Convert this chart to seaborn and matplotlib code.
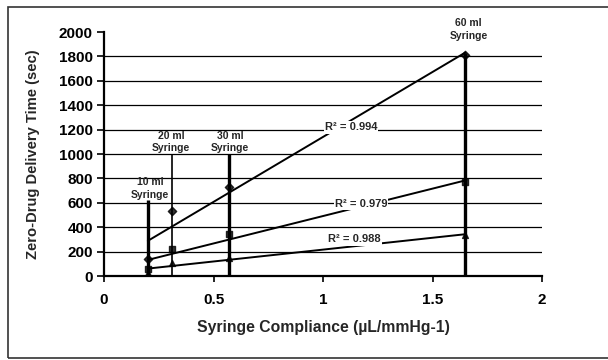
import matplotlib
matplotlib.use("Agg")
import matplotlib.pyplot as plt
import matplotlib.patches as mpatches
import seaborn as sns

# ---- data ----
compliance = [0.2, 0.31, 0.57, 1.65]          # syringe compliance (uL/mmHg-1)
time_top = [140, 529, 727, 1811]               # zero-drug delivery time (sec)
time_mid = [60, 219, 348, 768]
time_low = [25, 110, 146, 337]
r2_labels = ["R² = 0.994", "R² = 0.979", "R² = 0.988"]

syringe_names = ["10 ml\nSyringe", "20 ml\nSyringe", "30 ml\nSyringe", "60 ml\nSyringe"]
syringe_line_top = [620, 1000, 1000, 1830]

x_ticks = [0, 0.5, 1, 1.5, 2]
x_tick_labels = ["0", "0.5", "1", "1.5", "2"]
y_ticks = [0, 200, 400, 600, 800, 1000, 1200, 1400, 1600, 1800, 2000]

# ---- style ----
sns.set_style("white")
plt.rcParams["font.family"] = ["Liberation Sans", "DejaVu Sans"]
plt.rcParams["font.weight"] = "bold"
plt.rcParams["axes.labelweight"] = "bold"

fig = plt.figure(figsize=(6.08, 3.6), dpi=100)
ax = fig.add_axes([104 / 608, 1 - 276 / 360, 438 / 608, 244 / 360])

# outer frame of the original figure (right edge is cut off)
fig.patches.append(mpatches.Rectangle((8 / 608, 2 / 360), 1.05, 1 - 9 / 360,
                                      transform=fig.transFigure, fill=False,
                                      edgecolor="#333333", linewidth=1.2))

# syringe marker lines
widths = [2.4, 1.2, 2.4, 2.4]
for x, top, lw in zip(compliance, syringe_line_top, widths):
    ax.vlines(x, 0, top, color="black", linewidth=lw, zorder=2)

# series + least-squares trendlines
markers = ["D", "s", "^"]
for ys, mk in zip([time_top, time_mid, time_low], markers):
    sns.regplot(x=compliance, y=ys, ax=ax, ci=None, marker=mk, color="black",
                scatter_kws={"s": 18, "zorder": 4},
                line_kws={"linewidth": 1.4, "zorder": 3})

# syringe labels
label_pos = [(0.21, 716), (0.306, 1099), (0.575, 1099), (1.664, 2020)]
for (lx, ly), name in zip(label_pos, syringe_names):
    ax.text(lx, ly, name, ha="center", va="center", fontsize=7.5,
            linespacing=1.35, clip_on=False, zorder=5)

# R² labels
r2_pos = [(1.128, 1218), (1.174, 593), (1.142, 300)]
for (lx, ly), txt in zip(r2_pos, r2_labels):
    ax.text(lx, ly, txt, ha="center", va="center", fontsize=8, zorder=5,
            bbox=dict(facecolor="white", edgecolor="none", pad=0.8))

# axes
ax.set_xlim(0, 2)
ax.set_ylim(0, 2000)
ax.set_xticks(x_ticks)
ax.set_xticklabels(x_tick_labels)
ax.set_yticks(y_ticks)
ax.set_yticklabels([str(v) for v in y_ticks])
ax.yaxis.grid(True, color="black", linewidth=0.9)
ax.get_ygridlines()[-1].set_visible(False)
ax.get_ygridlines()[0].set_visible(False)
ax.set_axisbelow(True)

for side in ["top", "right"]:
    ax.spines[side].set_visible(False)
for side in ["left", "bottom"]:
    ax.spines[side].set_linewidth(1.6)
    ax.spines[side].set_color("black")

ax.tick_params(axis="y", direction="out", length=5, width=1.2, pad=3,
               labelsize=11, colors="black", left=True)
ax.tick_params(axis="x", direction="out", length=4, width=1.2, pad=8,
               labelsize=11, colors="black", bottom=True)

ax.set_xlabel("Syringe Compliance (µL/mmHg-1)", fontsize=11.3)
ax.set_ylabel("Zero-Drug Delivery Time (sec)", fontsize=10.6)
ax.xaxis.set_label_coords(0.5, -44 / 244)
ax.yaxis.set_label_coords(-64 / 438, 0.5)

fig.savefig("out.png", dpi=100)
